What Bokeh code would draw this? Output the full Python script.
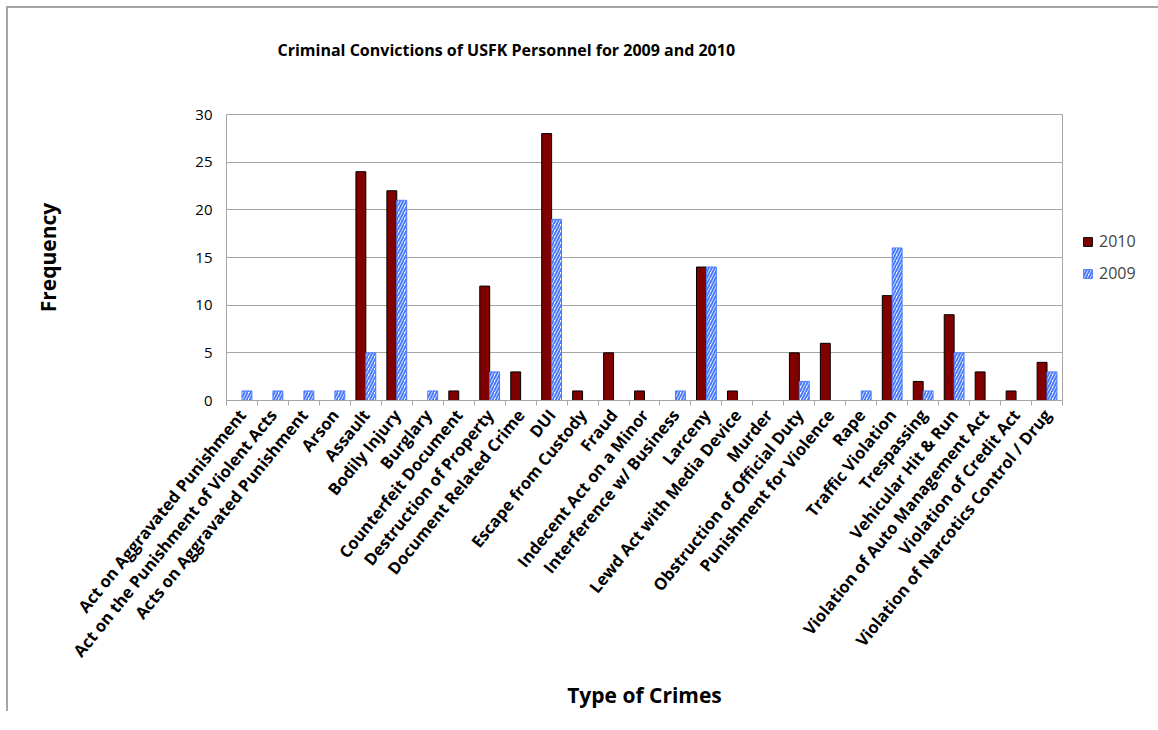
from bokeh.plotting import figure
from bokeh.models import (ColumnDataSource, FixedTicker, Legend, LegendItem, Title, Range1d)
from bokeh.embed import file_html
from bokeh.resources import INLINE

categories = [
    "Act on Aggravated Punishment",
    "Act on the Punishment of Violent Acts",
    "Acts on Aggravated Punishment",
    "Arson",
    "Assault",
    "Bodily Injury",
    "Burglary",
    "Counterfeit Document",
    "Destruction of Property",
    "Document Related Crime",
    "DUI",
    "Escape from Custody",
    "Fraud",
    "Indecent Act on a Minor",
    "Interference w/ Business",
    "Larceny",
    "Lewd Act with Media Device",
    "Murder",
    "Obstruction of Official Duty",
    "Punishment for Violence",
    "Rape",
    "Traffic Violation",
    "Trespassing",
    "Vehicular Hit & Run",
    "Violation of Auto Management Act",
    "Violation of Credit Act",
    "Violation of Narcotics Control / Drug",
]
values_2010 = [0, 0, 0, 0, 24, 22, 0, 1, 12, 3, 28, 1, 5, 1, 0, 14, 1, 0, 5, 6, 0, 11, 2, 9, 3, 1, 4]
values_2009 = [1, 1, 1, 1, 5, 21, 1, 0, 3, 0, 19, 0, 0, 0, 1, 14, 0, 0, 2, 0, 1, 16, 1, 5, 0, 0, 3]
y_ticks = [0, 5, 10, 15, 20, 25, 30]

FONT = "Open Sans"
GRID = "#a6a6a6"
n = len(categories)
idx = list(range(n))

src10 = ColumnDataSource(dict(x=[i - 0.16 for i, v in zip(idx, values_2010) if v > 0],
                              top=[v for v in values_2010 if v > 0]))
src09 = ColumnDataSource(dict(x=[i + 0.16 for i, v in zip(idx, values_2009) if v > 0],
                              top=[v for v in values_2009 if v > 0]))

p = figure(frame_width=836, frame_height=286,
           min_border_left=218, min_border_top=106, min_border_right=0, min_border_bottom=0,
           x_range=Range1d(-0.5, n - 0.5), y_range=Range1d(0, 30),
           output_backend="svg", toolbar_location=None)
p.styles = {"border-left": "2px solid #a6a6a6", "border-top": "2px solid #a6a6a6",
            "margin-left": "6px", "margin-top": "6px"}

r10 = p.vbar(x="x", top="top", width=0.32, source=src10,
             fill_color="#800000", line_color="#000000", line_width=1)
r09 = p.vbar(x="x", top="top", width=0.32, source=src09,
             fill_color="#ffffff", line_color="#4a7bff", line_width=1,
             hatch_pattern="/", hatch_color="#4a7bff", hatch_weight=2, hatch_scale=6)

p.outline_line_color = GRID
p.background_fill_color = "white"
p.border_fill_color = "white"

# x axis
xa = p.xaxis[0]
xa.ticker = FixedTicker(ticks=idx, minor_ticks=[i + 0.5 for i in range(-1, n)])
xa.major_label_overrides = {i: c for i, c in enumerate(categories)}
xa.major_label_orientation = 0.89
xa.major_tick_out = 0
xa.major_tick_in = 0
xa.minor_tick_out = 5
xa.minor_tick_in = 0
xa.minor_tick_line_color = GRID
xa.axis_line_color = GRID
xa.major_label_text_font = FONT
xa.major_label_text_font_style = "bold"
xa.major_label_text_font_size = "16.5px"
xa.major_label_text_color = "#000000"
xa.major_label_standoff = 6
xa.axis_label = "Type of Crimes"
xa.axis_label_text_font = FONT
xa.axis_label_text_font_style = "bold"
xa.axis_label_text_font_size = "21px"
xa.axis_label_text_color = "#000000"
xa.axis_label_standoff = 9

# y axis
ya = p.yaxis[0]
ya.ticker = FixedTicker(ticks=y_ticks)
ya.major_tick_out = 0
ya.major_tick_in = 0
ya.minor_tick_out = 0
ya.minor_tick_in = 0
ya.axis_line_color = GRID
ya.major_label_text_font = FONT
ya.major_label_text_font_size = "15px"
ya.major_label_text_color = "#000000"
ya.major_label_standoff = 14
ya.axis_label = "Frequency"
ya.axis_label_text_font = FONT
ya.axis_label_text_font_style = "bold"
ya.axis_label_text_font_size = "21px"
ya.axis_label_text_color = "#000000"
ya.axis_label_standoff = 130

p.xgrid.grid_line_color = None
p.ygrid.grid_line_color = GRID
p.ygrid.ticker = FixedTicker(ticks=y_ticks)

# spacer nearest the frame, then the real title above it
p.add_layout(Title(text=" ", text_font_size="33px"), "above")
p.add_layout(Title(text="Criminal Convictions of USFK Personnel for 2009 and 2010",
                   text_font=FONT, text_font_style="bold", text_font_size="16px",
                   text_color="#000000", align="left", offset=51), "above")

legend = Legend(items=[LegendItem(label="2010", renderers=[r10]),
                       LegendItem(label="2009", renderers=[r09])],
                location="center_left", orientation="vertical",
                glyph_width=11, glyph_height=11, label_height=20, spacing=10,
                label_text_font=FONT, label_text_font_size="16px", label_standoff=6,
                padding=1, margin=20, border_line_color=None, background_fill_alpha=0)
p.add_layout(legend, "right")

open("out.html", "w").write(file_html(p, INLINE))
